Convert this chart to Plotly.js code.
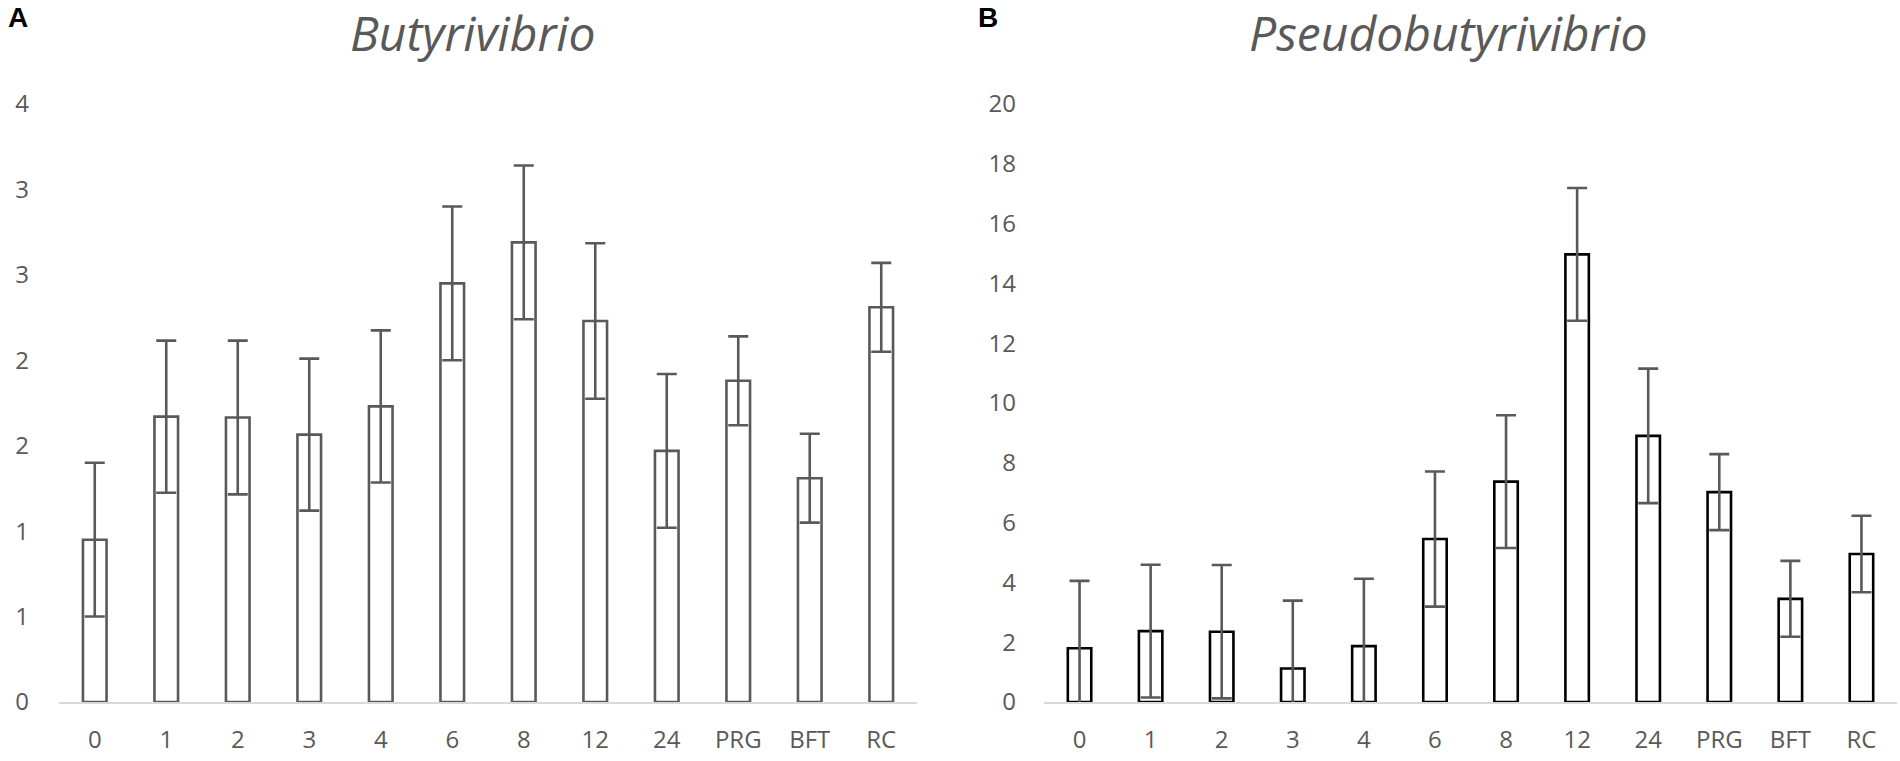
<!DOCTYPE html>
<html>
<head>
<meta charset="utf-8">
<script src="https://cdn.plot.ly/plotly-3.0.1.min.js"></script>
<style>
  html, body { margin: 0; padding: 0; background: #fff; }
  #chart { width: 1900px; height: 761px; }
</style>
</head>
<body>
<div id="chart"></div>
<script>
const groups = ["0", "1", "2", "3", "4", "6", "8", "12", "24", "PRG", "BFT", "RC"];

// panel A – Butyrivibrio
const butyMean = [0.95, 1.67, 1.665, 1.565, 1.73, 2.45, 2.69, 2.23, 1.47, 1.88, 1.31, 2.31];
const butyErr = [0.45, 0.445, 0.45, 0.445, 0.445, 0.45, 0.45, 0.455, 0.45, 0.26, 0.26, 0.26];
const butyTicks = [0, 0.5, 1, 1.5, 2, 2.5, 3, 3.5];
const butyTickText = ["0", "1", "1", "2", "2", "3", "3", "4"];

// panel B – Pseudobutyrivibrio
const pseudoMean = [1.8, 2.37, 2.35, 1.12, 1.87, 5.45, 7.37, 14.97, 8.9, 7.02, 3.45, 4.95];
const pseudoErr = [2.25, 2.22, 2.23, 2.27, 2.25, 2.26, 2.22, 2.22, 2.25, 1.27, 1.27, 1.28];

const grey = "#595959",
  axisGrey = "#d9d9d9";
const W = 1900,
  H = 761;
const px = (x) => x / W,
  py = (y) => 1 - y / H;

const tickFont = { family: "Open Sans, sans-serif", size: 24, color: grey };

const bar = (x, y, err, xa, ya, lineColor) => ({
  x,
  y,
  type: "bar",
  xaxis: xa,
  yaxis: ya,
  width: 0.33,
  marker: { color: "#ffffff", line: { color: lineColor, width: 2.6 } },
  error_y: { type: "data", array: err, visible: true, color: grey, thickness: 2.6, width: 10 },
  hoverinfo: "x+y",
});

const xBase = {
  type: "category",
  range: [-0.5, 11.5],
  showline: true,
  linecolor: axisGrey,
  linewidth: 2,
  showgrid: false,
  zeroline: false,
  ticks: "",
  tickfont: tickFont,
  ticklabelstandoff: 15,
  fixedrange: true,
};
const yBase = {
  showline: false,
  showgrid: false,
  zeroline: false,
  ticks: "",
  tickfont: tickFont,
  ticklabelstandoff: 27,
  fixedrange: true,
};

const yDom = [py(702), py(104)];

const layout = {
  width: W,
  height: H,
  margin: { t: 0, b: 0, l: 0, r: 0 },
  paper_bgcolor: "#ffffff",
  plot_bgcolor: "rgba(0,0,0,0)",
  showlegend: false,
  xaxis: { ...xBase, domain: [px(59), px(917)], anchor: "y" },
  yaxis: { ...yBase, domain: yDom, range: [0, 3.5], tickvals: butyTicks, ticktext: butyTickText, anchor: "x", ticklabelstandoff: 29 },
  xaxis2: { ...xBase, domain: [px(1044), px(1897)], anchor: "y2" },
  yaxis2: { ...yBase, domain: yDom, range: [0, 20], dtick: 2, anchor: "x2" },
  annotations: [
    { text: "<b>A</b>", x: px(6), y: py(17), xref: "paper", yref: "paper", xanchor: "left", yanchor: "middle", showarrow: false, font: { family: "Liberation Sans, Arial, sans-serif", size: 28, color: "#000" } },
    { text: "<b>B</b>", x: px(976), y: py(17), xref: "paper", yref: "paper", xanchor: "left", yanchor: "middle", showarrow: false, font: { family: "Liberation Sans, Arial, sans-serif", size: 28, color: "#000" } },
    { text: "<i>Butyrivibrio</i>", x: px(473), y: py(32), xref: "paper", yref: "paper", xanchor: "center", yanchor: "middle", showarrow: false, font: { family: "Open Sans, sans-serif", size: 48, color: grey } },
    { text: "<i>Pseudobutyrivibrio</i>", x: px(1448), y: py(32), xref: "paper", yref: "paper", xanchor: "center", yanchor: "middle", showarrow: false, font: { family: "Open Sans, sans-serif", size: 48, color: grey } },
  ],
};

Plotly.newPlot(
  "chart",
  [bar(groups, butyMean, butyErr, "x", "y", grey), bar(groups, pseudoMean, pseudoErr, "x2", "y2", "#000000")],
  layout,
  { displayModeBar: false, responsive: false, staticPlot: true },
);
</script>
</body>
</html>
